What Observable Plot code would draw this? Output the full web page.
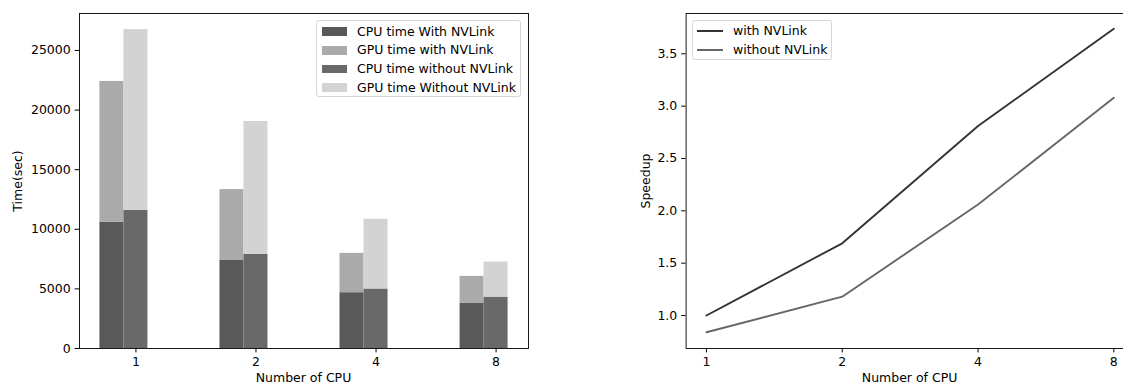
<!DOCTYPE html>
<html><head><meta charset="utf-8">
<script src="https://cdn.jsdelivr.net/npm/d3@7"></script>
<script src="https://cdn.jsdelivr.net/npm/@observablehq/plot@0.6"></script>
<style>
html,body{margin:0;padding:0;background:#fff;overflow:hidden;}
#wrap{position:relative;width:1123px;height:385px;overflow:hidden;font-family:"DejaVu Sans",sans-serif;color:#000;}
.lab{position:absolute;font-size:12.5px;line-height:12.5px;white-space:nowrap;}
.legend{position:absolute;background:#fff;border:1px solid #d5d5d5;border-radius:3px;box-sizing:border-box;}
.legend .txt{position:absolute;font-size:12.5px;line-height:12.5px;white-space:nowrap;transform:translateY(-50%);}
.legend .sw{position:absolute;}
</style></head><body><div id="wrap"></div>
<script>
// ---- data ----
const cpuLabels = ["1", "2", "4", "8"];
const cpuWithNV = [10600, 7420, 4680, 3780];
const gpuWithNV = [11800, 5910, 3300, 2270];
const cpuWithoutNV = [11600, 7900, 4990, 4310];
const gpuWithoutNV = [15150, 11140, 5850, 2940];
const speedupWithNV = [1.0, 1.69, 2.81, 3.74];
const speedupWithoutNV = [0.84, 1.18, 2.06, 3.08];
const timeTicks = [0, 5000, 10000, 15000, 20000, 25000];
const speedTicks = [1.0, 1.5, 2.0, 2.5, 3.0, 3.5];
const barNames = ["CPU time With NVLink", "GPU time with NVLink", "CPU time without NVLink", "GPU time Without NVLink"];
const barColors = ["#595959", "#aaaaaa", "#696969", "#d3d3d3"];
const lineNames = ["with NVLink", "without NVLink"];
const lineColors = ["#333333", "#666666"];

// ---- build tables ----
const barW = 0.2;
const barRows = [];
cpuLabels.forEach((lab, i) => {
  barRows.push({i, off: -0.2, y1: 0, y2: cpuWithNV[i], series: barNames[0]});
  barRows.push({i, off: -0.2, y1: cpuWithNV[i], y2: cpuWithNV[i] + gpuWithNV[i], series: barNames[1]});
  barRows.push({i, off: 0, y1: 0, y2: cpuWithoutNV[i], series: barNames[2]});
  barRows.push({i, off: 0, y1: cpuWithoutNV[i], y2: cpuWithoutNV[i] + gpuWithoutNV[i], series: barNames[3]});
});
const lineRows = [];
cpuLabels.forEach((lab, i) => {
  lineRows.push({i, v: speedupWithNV[i], series: lineNames[0]});
  lineRows.push({i, v: speedupWithoutNV[i], series: lineNames[1]});
});

const FS = 12.5, TS = 4.4, TP = 4.4;
const style = {fontFamily: "DejaVu Sans", fontSize: FS + "px", color: "#000", background: "transparent", overflow: "visible"};
const wrap = document.getElementById("wrap");

// ---- left chart ----
const left = Plot.plot({
  width: 560, height: 385,
  marginLeft: 79, marginRight: 32, marginTop: 13, marginBottom: 37,
  style,
  x: {type: "linear", domain: [-0.47, 3.27]},
  y: {domain: [0, 28100]},
  color: {domain: barNames, range: barColors},
  marks: [
    Plot.rect(barRows, {x1: d => d.i + d.off - barW / 2, x2: d => d.i + d.off + barW / 2, y1: "y1", y2: "y2", fill: "series"}),
    Plot.axisX({ticks: [0, 1, 2, 3], tickFormat: i => cpuLabels[i], tickSize: TS, tickPadding: TP, label: null, fontSize: FS}),
    Plot.axisY({ticks: timeTicks, tickFormat: d3.format("d"), tickSize: TS, tickPadding: TP, label: null, fontSize: FS}),
    Plot.frame({stroke: "#000", strokeWidth: 0.9})
  ]
});
left.style.position = "absolute"; left.style.left = "0px"; left.style.top = "0px";
wrap.appendChild(left);

// ---- right chart ----
const right = Plot.plot({
  width: 590, height: 385,
  marginLeft: 125.6, marginRight: 16.3, marginTop: 13, marginBottom: 37,
  style,
  x: {type: "linear", domain: [-0.15, 3.15]},
  y: {domain: [0.685, 3.885]},
  color: {domain: lineNames, range: lineColors},
  marks: [
    Plot.line(lineRows, {x: "i", y: "v", z: "series", stroke: "series", strokeWidth: 1.9}),
    Plot.axisX({ticks: [0, 1, 2, 3], tickFormat: i => cpuLabels[i], tickSize: TS, tickPadding: TP, label: null, fontSize: FS}),
    Plot.axisY({ticks: speedTicks, tickFormat: d3.format(".1f"), tickSize: TS, tickPadding: TP, label: null, fontSize: FS}),
    Plot.frame({stroke: "#000", strokeWidth: 0.9})
  ]
});
right.style.position = "absolute"; right.style.left = "560px"; right.style.top = "0px";
wrap.appendChild(right);

// ---- axis titles ----
function label(text, x, y, rot) {
  const d = document.createElement("div");
  d.className = "lab"; d.textContent = text;
  d.style.left = x + "px"; d.style.top = y + "px";
  d.style.transform = "translate(-50%,-50%)" + (rot ? " rotate(-90deg)" : "");
  wrap.appendChild(d);
}
label("Time(sec)", 17.5, 180.5, true);
label("Speedup", 646, 180.5, true);
label("Number of CPU", 303.5, 378, false);
label("Number of CPU", 909.6, 378, false);

// ---- legends ----
function legend(x, y, w, names, colors, kind) {
  const rowH = 18.66;
  const box = document.createElement("div");
  box.className = "legend";
  box.style.left = x + "px"; box.style.top = y + "px";
  box.style.width = w + "px"; box.style.height = ((names.length - 1) * rowH + 21.5) + "px";
  names.forEach((n, k) => {
    const cy = 10.7 + k * rowH;
    const sw = document.createElement("div");
    sw.className = "sw";
    if (kind === "patch") {
      sw.style.left = "5px"; sw.style.width = "25px";
      sw.style.top = (cy - 4.4) + "px"; sw.style.height = "8.75px";
      sw.style.background = colors[k];
    } else {
      sw.style.left = "4px"; sw.style.width = "26px";
      sw.style.top = (cy - 1) + "px"; sw.style.height = "1.9px";
      sw.style.background = colors[k];
    }
    box.appendChild(sw);
    const t = document.createElement("div");
    t.className = "txt"; t.textContent = n;
    t.style.left = "40px"; t.style.top = cy + "px";
    box.appendChild(t);
  });
  wrap.appendChild(box);
}
legend(316, 20, 205, barNames, barColors, "patch");
legend(692, 19.5, 140, lineNames, lineColors, "line");
</script></body></html>
